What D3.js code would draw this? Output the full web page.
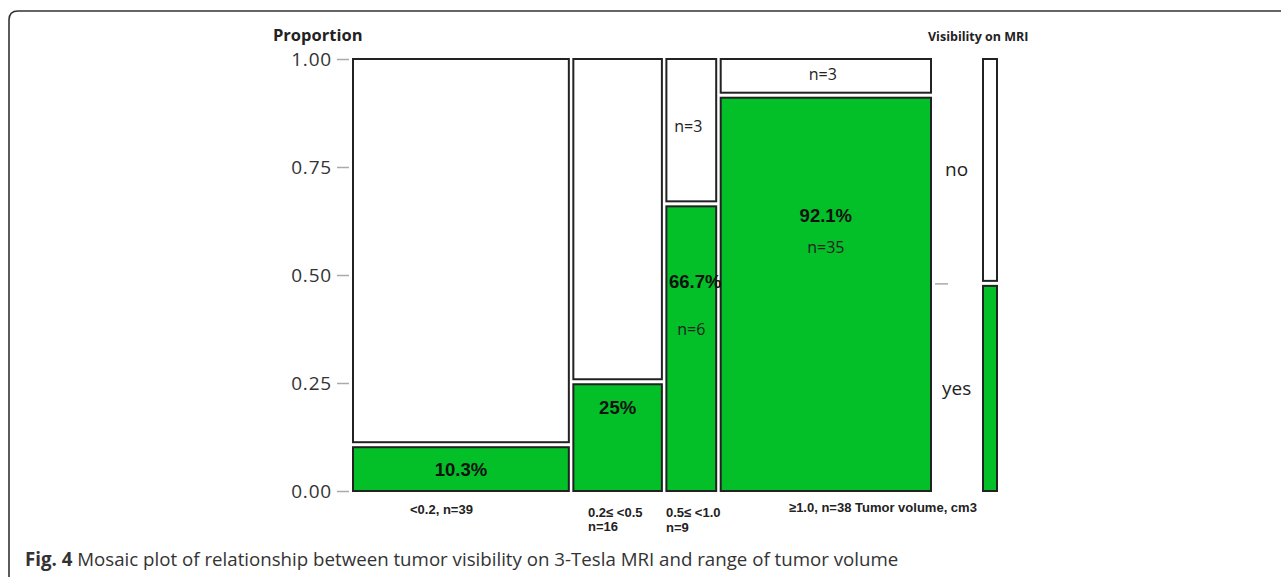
<!DOCTYPE html>
<html>
<head>
<meta charset="utf-8">
<script src="https://cdn.jsdelivr.net/npm/d3@7"></script>
<style>
  body { margin: 0; background: #fff; }
  svg { display: block; }
</style>
</head>
<body>
<svg id="chart" width="1281" height="577"></svg>
<script>
// data
var groups = ["<0.2", "0.2≤ <0.5", "0.5≤ <1.0", "≥1.0"];
var groupN = [39, 16, 9, 38];
var yesN = [4, 4, 6, 35];
var noN = [35, 12, 3, 3];
var yTicks = [0, 0.25, 0.5, 0.75, 1];
var legendLevels = ["no", "yes"];

var my = {
  svg: d3.select("#chart"),
  green: "#03bf28",
  edge: "#222",
  gap: 4.5,     // px between tiles
  vgap: 5
};

// frame of the figure panel
my.svg.append("path")
  .attr("d", "M1281,11 H18 Q9,11 9,20 V577")
  .attr("fill", "none").attr("stroke", "#333").attr("stroke-width", 1.6);

var y = d3.scaleLinear().domain([0, 1]).range([491, 59]);
var total = d3.sum(groupN);
var x0 = 353, x1 = 931;
var unit = (x1 - x0 - my.gap * (groups.length - 1)) / total;
var cum = d3.cumsum(groupN);
var xs = d3.scaleLinear().domain([0, total]).range([x0, x0 + unit * total]);

function colX(i) { return xs(i === 0 ? 0 : cum[i - 1]) + my.gap * i; }
function colW(i) { return unit * groupN[i]; }
var span = y(0) - y(1) - my.vgap;

// y axis
var axis = my.svg.append("g")
  .attr("transform", "translate(349,0)")
  .call(d3.axisLeft(y).tickValues(yTicks).tickFormat(d3.format(".2f")).tickSize(12).tickPadding(5));
axis.select(".domain").remove();
axis.selectAll("line").attr("stroke", "#aaa").attr("stroke-width", 1.5);
axis.selectAll("text").attr("fill", "#333").attr("dy", "0.34em")
  .style("font", "19px 'Open Sans', sans-serif").style("letter-spacing", "0.8px");

my.svg.append("text").attr("x", 273).attr("y", 41)
  .style("font", "bold 16.5px 'Open Sans', sans-serif").attr("fill", "#222").text("Proportion");

// tiles
groups.forEach(function(g, i) {
  var pYes = yesN[i] / groupN[i];
  var hYes = pYes * span;
  var x = colX(i), w = colW(i);
  my.svg.append("rect")
    .attr("x", x).attr("y", y(0) - hYes).attr("width", w).attr("height", hYes)
    .attr("fill", my.green).attr("stroke", my.edge).attr("stroke-width", 2);
  my.svg.append("rect")
    .attr("x", x).attr("y", y(1)).attr("width", w).attr("height", span - hYes)
    .attr("fill", "#fff").attr("stroke", my.edge).attr("stroke-width", 2);
});

// in-tile annotations (placed by hand as in the figure)
var pctFont = "bold 18.5px 'Liberation Sans', Arial, sans-serif";
var nFont = "16px 'Open Sans', sans-serif";
var pctPos = [0.05, 0.195, 0.485, 0.64];
groups.forEach(function(g, i) {
  var cx = colX(i) + colW(i) / 2;
  my.svg.append("text").attr("x", cx + (i === 2 ? 4 : 0)).attr("y", y(pctPos[i]) + 7)
    .attr("text-anchor", "middle").style("font", pctFont).attr("fill", "#111")
    .text(d3.format(".3~r")(yesN[i] / groupN[i] * 100) + "%");
});
var nYesPos = [null, null, 0.375, 0.565];
var nNoPos = [null, null, 0.845, 0.965];
groups.forEach(function(g, i) {
  var cx = colX(i) + colW(i) / 2;
  if (nYesPos[i] !== null) {
    my.svg.append("text").attr("x", cx).attr("y", y(nYesPos[i]) + 6)
      .attr("text-anchor", "middle").style("font", nFont).attr("fill", "#222").text("n=" + yesN[i]);
  }
  if (nNoPos[i] !== null) {
    my.svg.append("text").attr("x", cx - 3).attr("y", y(nNoPos[i]) + 6)
      .attr("text-anchor", "middle").style("font", nFont).attr("fill", "#222").text("n=" + noN[i]);
  }
});

// bottom category labels
var labFont = "bold 13px 'Liberation Sans', Arial, sans-serif";
function lab(txt, x, yy) {
  my.svg.append("text").attr("x", x).attr("y", yy).style("font", labFont).attr("fill", "#222").text(txt);
}
lab(groups[0] + ", n=" + groupN[0], 410, 514);
lab(groups[1], 588, 517); lab("n=" + groupN[1], 588, 531);
lab(groups[2], 666, 517); lab("n=" + groupN[2], 666, 532);
lab(groups[3] + ", n=" + groupN[3] + "  Tumor volume, cm3", 789, 512);

// legend column
var lx = 983, lw = 14;
var pAll = d3.sum(yesN) / total;
my.svg.append("rect").attr("x", lx).attr("y", y(0) - pAll * span).attr("width", lw).attr("height", pAll * span)
  .attr("fill", my.green).attr("stroke", my.edge).attr("stroke-width", 2);
my.svg.append("rect").attr("x", lx).attr("y", y(1)).attr("width", lw).attr("height", span - pAll * span)
  .attr("fill", "#fff").attr("stroke", my.edge).attr("stroke-width", 2);
my.svg.append("line").attr("x1", 935).attr("x2", 948)
  .attr("y1", y(0) - pAll * span - 2).attr("y2", y(0) - pAll * span - 2)
  .attr("stroke", "#aaa").attr("stroke-width", 1.5);
my.svg.append("text").attr("x", 945).attr("y", 176).style("font", "19px 'Open Sans', sans-serif")
  .attr("fill", "#222").text(legendLevels[0]);
my.svg.append("text").attr("x", 942).attr("y", 395).style("font", "19px 'Open Sans', sans-serif")
  .attr("fill", "#222").text(legendLevels[1]);
my.svg.append("text").attr("x", 928).attr("y", 41)
  .style("font", "bold 12.5px 'Open Sans', sans-serif").attr("fill", "#222").text("Visibility on MRI");

// caption
var cap = my.svg.append("text").attr("x", 25).attr("y", 566)
  .style("font", "18.7px 'Open Sans', sans-serif").attr("fill", "#333");
cap.append("tspan").style("font-weight", "bold").text("Fig. 4");
cap.append("tspan").text(" Mosaic plot of relationship between tumor visibility on 3-Tesla MRI and range of tumor volume");
</script>
</body>
</html>
